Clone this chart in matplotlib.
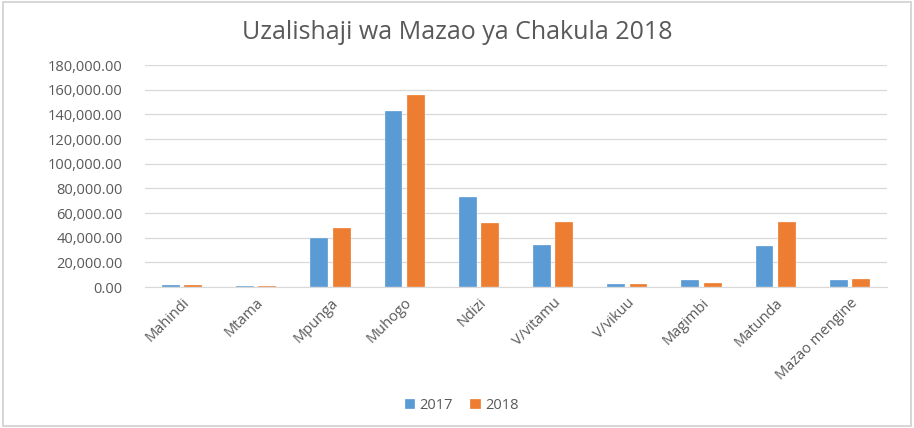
import numpy as np
import matplotlib
matplotlib.use('Agg')
import matplotlib.pyplot as plt
from matplotlib.ticker import FuncFormatter

categories = ['Mahindi', 'Mtama', 'Mpunga', 'Muhogo', 'Ndizi', 'V/vitamu',
              'V/vikuu', 'Magimbi', 'Matunda', 'Mazao mengine']
values_2017 = [1500, 900, 39700, 142700, 73200, 34200, 2800, 6000, 33600, 5300]
values_2018 = [1500, 900, 47800, 155800, 52200, 52800, 2700, 3500, 52800, 6800]

plt.rcParams['font.family'] = ['Open Sans', 'DejaVu Sans']
grey = '#595959'

fig = plt.figure(figsize=(9.14, 4.28), dpi=100)
fig.patches.append(plt.Rectangle((0.003, 0.005), 0.994, 0.99, transform=fig.transFigure,
                                 fill=False, edgecolor='#D0D0D0', linewidth=1.2))
ax = fig.add_axes([0.1586, 0.3294, 0.8119, 0.5187])

x = np.arange(len(categories))
w = 0.24
ax.bar(x - 0.15, values_2017, w, color='#5B9BD5', edgecolor='white', linewidth=0.2, label='2017', zorder=3)
ax.bar(x + 0.15, values_2018, w, color='#ED7D31', edgecolor='white', linewidth=0.2, label='2018', zorder=3)

ax.set_xlim(-0.5, len(categories) - 0.5)
ax.set_ylim(0, 180000)
ax.set_yticks(np.arange(0, 180001, 20000))
ax.yaxis.set_major_formatter(FuncFormatter(lambda v, p: f'{v:,.2f}'))
ax.grid(axis='y', color='#D9D9D9', linewidth=0.9, zorder=0)
for s in ['top', 'right', 'left']:
    ax.spines[s].set_visible(False)
ax.spines['bottom'].set_color('#D9D9D9')
ax.tick_params(axis='both', length=0, colors=grey, labelsize=10.5)
ax.tick_params(axis='y', pad=16)
ax.tick_params(axis='x', pad=6)
ax.set_xticks(x)
ax.set_xticklabels(categories, rotation=45, ha='right', rotation_mode='anchor')

fig.text(0.5, 0.925, 'Uzalishaji wa Mazao ya Chakula 2018', ha='center', va='center',
         fontsize=18, color=grey)
fig.legend(loc='center', bbox_to_anchor=(0.505, 0.053), ncol=2, frameon=False,
           fontsize=10.5, labelcolor=grey, handlelength=0.7, handleheight=0.7,
           handletextpad=0.3, columnspacing=1.2)

fig.savefig('out.png', dpi=100)
